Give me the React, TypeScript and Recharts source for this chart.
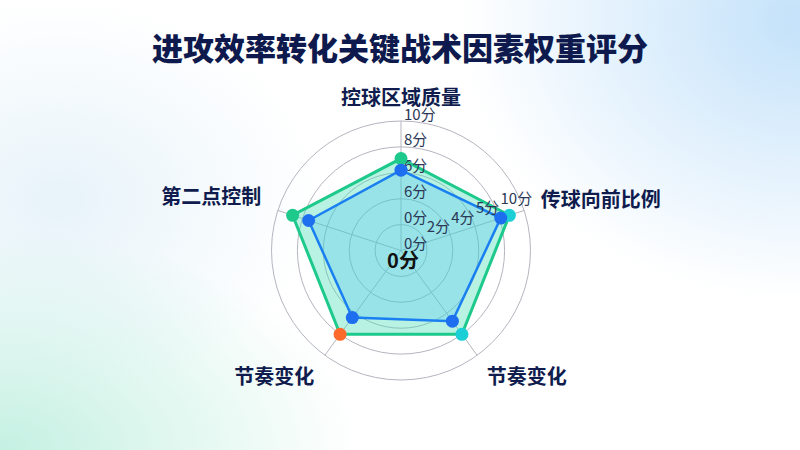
import { RadarChart, Radar, PolarGrid, PolarAngleAxis, PolarRadiusAxis } from 'recharts';

const factors = ['控球区域质量', '传球向前比例', '节奏变化', '节奏变化', '第二点控制'];
const outerScores = [7.1, 8.8, 8.0, 8.0, 8.8];
const innerScores = [6.2, 8.1, 6.75, 6.4, 7.5];
const upTickLabels = ['0分', '0分', '6分', '6分', '8分', '10分'];
const sideTickLabels = ['', '2分', '4分', '5分', '10分', ''];

const outerDotColors = ['#1ec98c', '#1ccfd6', '#1ccfd6', '#ff6a2c', '#1ec98c'];

const data = factors.map((name, i) => ({
  id: i,
  name,
  outer: outerScores[i],
  inner: innerScores[i],
}));

const FONT = '"Noto Sans CJK SC", "Noto Sans", sans-serif';
const CX = 401;
const CY = 250.5;
const SIDE_ANGLE = 18;

// label nudges per category (top, right, bottom-right, bottom-left, left)
const labelOffsets = [
  { dx: 0, dy: -17, anchor: 'middle' },
  { dx: 9, dy: -10, anchor: 'start' },
  { dx: 5, dy: 14, anchor: 'start' },
  { dx: -6, dy: 14, anchor: 'end' },
  { dx: -9, dy: -13, anchor: 'end' },
];

function AngleTick(props: any) {
  const { x, y, payload } = props;
  const i = Number(payload.value);
  const o = labelOffsets[i];
  return (
    <text
      x={x + o.dx}
      y={y + o.dy}
      textAnchor={o.anchor}
      dominantBaseline="central"
      fontSize={20}
      fontWeight={700}
      fill="#0f1c4d"
      fontFamily={FONT}
    >
      {factors[i]}
    </text>
  );
}

// vertical axis labels, plus the second set drawn along the 18° spoke at the same radius
function UpTick(props: any) {
  const { x, y, index } = props;
  const r = CY - y;
  const rad = (SIDE_ANGLE * Math.PI) / 180;
  const sx = CX + r * Math.cos(rad);
  const sy = CY - r * Math.sin(rad);
  const side = sideTickLabels[index];
  return (
    <g>
      <text x={x + 3} y={y - 8} textAnchor="start" dominantBaseline="central" fontSize={15} fill="#2a3856" fontFamily={FONT}>
        {upTickLabels[index]}
      </text>
      {side ? (
        <text x={sx + 1} y={sy - 15 - index * 1.5} textAnchor="start" dominantBaseline="central" fontSize={15} fill="#2a3856" fontFamily={FONT}>
          {side}
        </text>
      ) : null}
    </g>
  );
}

function OuterDot(props: any) {
  const { cx, cy, index } = props;
  return <circle key={`o${index}`} cx={cx} cy={cy} r={6.5} fill={outerDotColors[index]} />;
}

function InnerDot(props: any) {
  const { cx, cy, index } = props;
  return <circle key={`i${index}`} cx={cx} cy={cy} r={6.5} fill="#1d6ff0" />;
}

export default function App() {
  return (
    <div
      style={{
        position: 'absolute',
        left: 0,
        top: 0,
        width: 800,
        height: 450,
        overflow: 'hidden',
        fontFamily: FONT,
        background:
          'radial-gradient(ellipse 340px 280px at 800px 20px, #c4e2fa 0%, rgba(196,226,250,0) 100%), radial-gradient(ellipse 360px 220px at 0px 450px, #c4f0e2 0%, rgba(196,240,226,0) 100%), radial-gradient(ellipse 260px 200px at 60px 200px, rgba(225,240,248,0.8) 0%, rgba(225,240,248,0) 100%), #ffffff',
      }}
    >
      <div
        style={{
          position: 'absolute',
          top: 26,
          left: 0,
          width: 800,
          textAlign: 'center',
          fontSize: 31,
          fontWeight: 900,
          lineHeight: '42px',
          color: '#0e1a4d',
        }}
      >
        进攻效率转化关键战术因素权重评分
      </div>
      <div style={{ position: 'absolute', left: 0, top: 0 }}>
        <RadarChart width={800} height={450} data={data} cx={CX} cy={CY} outerRadius={129.5} startAngle={90} endAngle={-270}>
          <PolarGrid gridType="circle" stroke="#b5b5c0" strokeWidth={1} />
          <PolarAngleAxis dataKey="id" tick={<AngleTick />} tickLine={false} axisLine={false} />
          <PolarRadiusAxis angle={90} domain={[0, 10]} tickCount={6} axisLine={false} tick={<UpTick />} />
          <Radar
            dataKey="outer"
            stroke="#1ec98c"
            strokeWidth={3}
            fill="#45ddb6"
            fillOpacity={0.38}
            dot={OuterDot}
            isAnimationActive={false}
          />
          <Radar
            dataKey="inner"
            stroke="#1a7ff0"
            strokeWidth={2.5}
            fill="#48bdf0"
            fillOpacity={0.28}
            dot={InnerDot}
            isAnimationActive={false}
          />
        </RadarChart>
      </div>
      <div
        style={{
          position: 'absolute',
          left: 373,
          top: 246,
          width: 60,
          textAlign: 'center',
          fontSize: 20,
          fontWeight: 700,
          lineHeight: '28px',
          color: '#111111',
        }}
      >
        0分
      </div>
    </div>
  );
}
